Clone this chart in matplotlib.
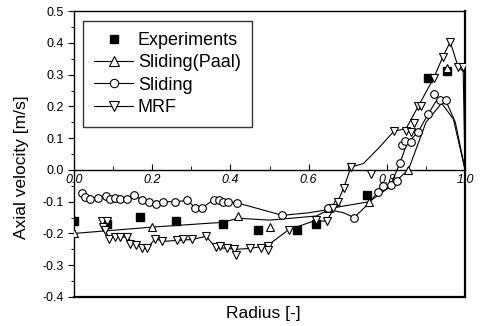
"""Axial velocity profile: experiments vs sliding mesh and MRF simulations."""

import matplotlib

matplotlib.use("Agg")

import matplotlib.pyplot as plt
from matplotlib.ticker import MultipleLocator

plt.rcParams["font.family"] = ["Liberation Sans", "DejaVu Sans"]

# experiments (filled squares)
exp_x = [0.0, 0.085, 0.17, 0.26, 0.38, 0.47, 0.57, 0.62, 0.75, 0.905, 0.954]
exp_y = [-0.16, -0.17, -0.148, -0.16, -0.17, -0.19, -0.19, -0.17, -0.08, 0.29, 0.31]

# Sliding(Paal) (up triangles)
paal_x = [0.0, 0.2, 0.42, 0.5, 0.65, 0.67, 0.755, 0.855, 0.954]
paal_y = [-0.2, -0.18, -0.145, -0.18, -0.12, -0.10, -0.10, 0.0, 0.32]
paal_line_x = [0.0, 0.2, 0.38, 0.42, 0.5, 0.62, 0.66, 0.755, 0.8, 0.855, 0.9, 0.94, 0.97, 1.0]
paal_line_y = [-0.2, -0.18, -0.165, -0.152, -0.158, -0.145, -0.12, -0.1, -0.06, 0.0, 0.15, 0.21, 0.16, 0.0]

# Sliding (circles)
sl_x = [0.02, 0.028, 0.04, 0.062, 0.082, 0.092, 0.105, 0.118, 0.135, 0.154, 0.174,
        0.192, 0.21, 0.228, 0.259, 0.29, 0.31, 0.328, 0.357, 0.37, 0.382, 0.395,
        0.418, 0.533, 0.65, 0.716, 0.777, 0.79, 0.81, 0.825, 0.833, 0.838, 0.846,
        0.862, 0.88, 0.905, 0.92, 0.936, 0.95]
sl_y = [-0.072, -0.084, -0.09, -0.088, -0.082, -0.09, -0.088, -0.093, -0.093, -0.078,
        -0.096, -0.1, -0.106, -0.1, -0.1, -0.096, -0.119, -0.119, -0.094, -0.096,
        -0.1, -0.1, -0.104, -0.143, -0.119, -0.15, -0.07, -0.05, -0.047, -0.034,
        0.022, 0.08, 0.09, 0.088, 0.12, 0.175, 0.24, 0.22, 0.22]
sl_line_x = sl_x[:24] + [0.6, 0.65, 0.69, 0.716, 0.75, 0.777, 0.81, 0.833, 0.85,
                         0.88, 0.905, 0.93, 0.95, 0.975, 1.0]
sl_line_y = sl_y[:24] + [-0.135, -0.125, -0.135, -0.15, -0.11, -0.07, -0.045, 0.02,
                         0.08, 0.12, 0.175, 0.225, 0.22, 0.15, 0.0]

# MRF (down triangles)
mrf_x = [0.072, 0.085, 0.075, 0.08, 0.09, 0.105, 0.118, 0.135, 0.144, 0.159, 0.174,
         0.187, 0.208, 0.226, 0.264, 0.28, 0.302, 0.338, 0.362, 0.374, 0.392, 0.408,
         0.415, 0.451, 0.477, 0.495, 0.497, 0.549, 0.618, 0.646, 0.662, 0.674, 0.69,
         0.708, 0.759, 0.818, 0.849, 0.862, 0.869, 0.88, 0.887, 0.92, 0.943, 0.962,
         0.982, 0.995]
mrf_y = [-0.16, -0.162, -0.18, -0.19, -0.216, -0.21, -0.21, -0.212, -0.234, -0.237,
         -0.245, -0.247, -0.216, -0.225, -0.222, -0.219, -0.219, -0.209, -0.244,
         -0.241, -0.247, -0.25, -0.269, -0.247, -0.247, -0.238, -0.253, -0.188,
         -0.159, -0.162, -0.12, -0.1, -0.056, 0.009, -0.012, 0.122, 0.122, 0.119,
         0.147, 0.2, 0.2, 0.29, 0.356, 0.403, 0.325, 0.325]
mrf_line_x = [0.072, 0.08, 0.09, 0.105, 0.135, 0.159, 0.187, 0.208, 0.226, 0.264,
              0.302, 0.338, 0.362, 0.392, 0.415, 0.451, 0.495, 0.549, 0.618, 0.646,
              0.674, 0.69, 0.708, 0.74, 0.78, 0.818, 0.849, 0.88, 0.92, 0.943,
              0.962, 0.982, 0.995, 1.0]
mrf_line_y = [-0.16, -0.19, -0.216, -0.21, -0.212, -0.237, -0.247, -0.216, -0.225,
              -0.222, -0.219, -0.209, -0.244, -0.247, -0.25, -0.247, -0.238, -0.188,
              -0.159, -0.162, -0.1, -0.056, 0.009, 0.02, 0.07, 0.122, 0.13, 0.2,
              0.29, 0.356, 0.403, 0.325, 0.31, 0.0]

fig = plt.figure(figsize=(4.8, 3.26), dpi=100)
ax = fig.add_axes([0.154, 0.089, 0.815, 0.877])

lw = 0.8
mk = dict(markerfacecolor="white", markeredgecolor="black", markeredgewidth=0.8)

ax.plot(paal_line_x, paal_line_y, color="black", lw=lw)
ax.plot(sl_line_x, sl_line_y, color="black", lw=lw)
ax.plot(mrf_line_x, mrf_line_y, color="black", lw=lw)

ax.plot(exp_x, exp_y, ls="none", marker="s", ms=5.5, color="black", zorder=3)
ax.plot(paal_x, paal_y, ls="none", marker="^", ms=6, zorder=4, **mk)
ax.plot(sl_x, sl_y, ls="none", marker="o", ms=5.5, zorder=4, **mk)
ax.plot(mrf_x, mrf_y, ls="none", marker="v", ms=6, zorder=4, **mk)

# legend proxies
ax.plot([], [], ls="none", marker="s", ms=6, color="black", label="Experiments")
ax.plot([], [], color="black", lw=lw, marker="^", ms=6.5, label="Sliding(Paal)", **mk)
ax.plot([], [], color="black", lw=lw, marker="o", ms=6, label="Sliding", **mk)
ax.plot([], [], color="black", lw=lw, marker="v", ms=6.5, label="MRF", **mk)
handles, labels = ax.get_legend_handles_labels()
leg = ax.legend(handles[-4:], labels[-4:], loc="upper left",
                bbox_to_anchor=(0.023, 0.965), fontsize=13, frameon=True,
                fancybox=False, edgecolor="black", handlelength=2.2,
                handletextpad=0.25, labelspacing=0.3, borderpad=0.6,
                borderaxespad=0)
leg.get_frame().set_linewidth(1.0)

ax.set_xlim(0, 1.0)
ax.set_ylim(-0.4, 0.5)

# x axis drawn along y = 0, box closed at the bottom
ax.spines["bottom"].set_position(("data", 0))
ax.axhline(-0.4, color="black", lw=1.6, clip_on=False)
for side in ["left", "top", "bottom"]:
    ax.spines[side].set_linewidth(1.0)
ax.spines["right"].set_linewidth(1.6)

ax.xaxis.set_major_locator(MultipleLocator(0.2))
ax.xaxis.set_minor_locator(MultipleLocator(0.1))
ax.yaxis.set_major_locator(MultipleLocator(0.1))
ax.yaxis.set_minor_locator(MultipleLocator(0.05))
ax.tick_params(axis="x", which="both", direction="in", length=4, pad=3,
               labelsize=9)
ax.tick_params(axis="x", which="minor", length=3)
ax.tick_params(axis="y", which="major", direction="out", length=4, labelsize=9)
ax.tick_params(axis="y", which="minor", direction="out", length=2)
ax.set_xticklabels([f"{v:.1f}" for v in ax.get_xticks()], fontstyle="italic")
ax.set_yticklabels([f"{v:.1f}" for v in ax.get_yticks()])

fig.text(0.548, 0.037, "Radius [-]", ha="center", va="center", fontsize=12.5)
fig.text(0.044, 0.488, "Axial velocity [m/s]", ha="center", va="center",
         rotation=90, fontsize=12.5)

fig.savefig("out.png", dpi=100)
